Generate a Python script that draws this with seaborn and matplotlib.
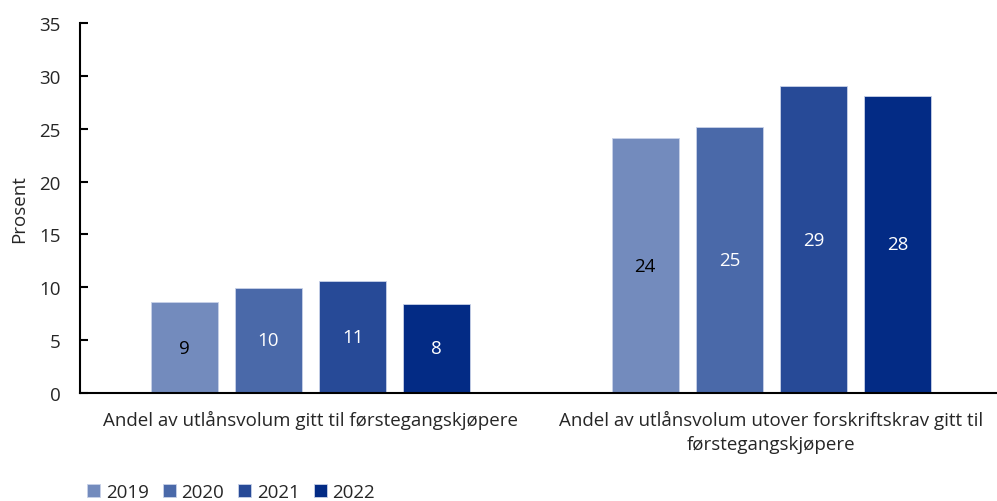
import matplotlib
matplotlib.use("Agg")
import matplotlib.pyplot as plt
import matplotlib.ticker as mticker
import seaborn as sns
import pandas as pd

categories = ["Andel av utlånsvolum gitt til førstegangskjøpere",
              "Andel av utlånsvolum utover forskriftskrav gitt til\nførstegangskjøpere"]
years = ["2019", "2020", "2021", "2022"]
values = {
    "2019": [8.6, 24.1],
    "2020": [9.95, 25.2],
    "2021": [10.6, 29.0],
    "2022": [8.45, 28.1],
}
colors = ["#738BBD", "#4A69A9", "#274A97", "#032B85"]
label_colors = ["black", "white", "white", "white"]

rows = [(c, y, values[y][i]) for y in years for i, c in enumerate(categories)]
df = pd.DataFrame(rows, columns=["kategori", "år", "verdi"])

sns.set_style("white")
plt.rcParams["font.family"] = ["Open Sans", "DejaVu Sans"]
FS = 13.5
plt.rcParams["font.size"] = FS

fig = plt.figure(figsize=(9.97, 5.02), dpi=100)
ax = fig.add_axes([80 / 997, 1 - 394 / 502, 922 / 997, (394 - 24) / 502])

sns.barplot(data=df, x="kategori", y="verdi", hue="år", palette=colors,
            saturation=1, width=0.73, gap=0.21, ax=ax, legend=True,
            errorbar=None, edgecolor="#c8d2e8", linewidth=0.6)

for cont, col in zip(ax.containers, label_colors):
    ax.bar_label(cont, labels=[f"{v:.0f}" for v in cont.datavalues],
                 label_type="center", color=col, fontsize=FS)

ax.set_xlim(-0.5, 1.5)
ax.set_ylim(0, 35)
ax.set_yticks(range(0, 36, 5))
ax.set_ylabel("Prosent", fontsize=FS, labelpad=8)
ax.set_xlabel("")
ax.tick_params(axis="x", which="major", length=0, pad=12, labelsize=FS)
for t in ax.get_xticklabels():
    t.set_linespacing(1.45)
ax.xaxis.set_minor_locator(mticker.FixedLocator([0.5]))
ax.tick_params(axis="x", which="minor", length=6, width=1.5, color="black", direction="in")
ax.tick_params(axis="y", length=6, width=1.5, color="black", direction="in",
               labelsize=FS, left=True, pad=14)
for s in ["top", "right"]:
    ax.spines[s].set_visible(False)
for s in ["left", "bottom"]:
    ax.spines[s].set_color("black")
    ax.spines[s].set_linewidth(1.5)

h, l = ax.get_legend_handles_labels()
ax.get_legend().remove()
fig.legend(h, l, loc="center left", bbox_to_anchor=(87 / 997, 1 - 493 / 502), ncol=4,
           frameon=False, fontsize=FS, handlelength=0.7, handleheight=0.7,
           handletextpad=0.3, columnspacing=0.75, borderaxespad=0, borderpad=0)

fig.savefig("out.png", dpi=100)
